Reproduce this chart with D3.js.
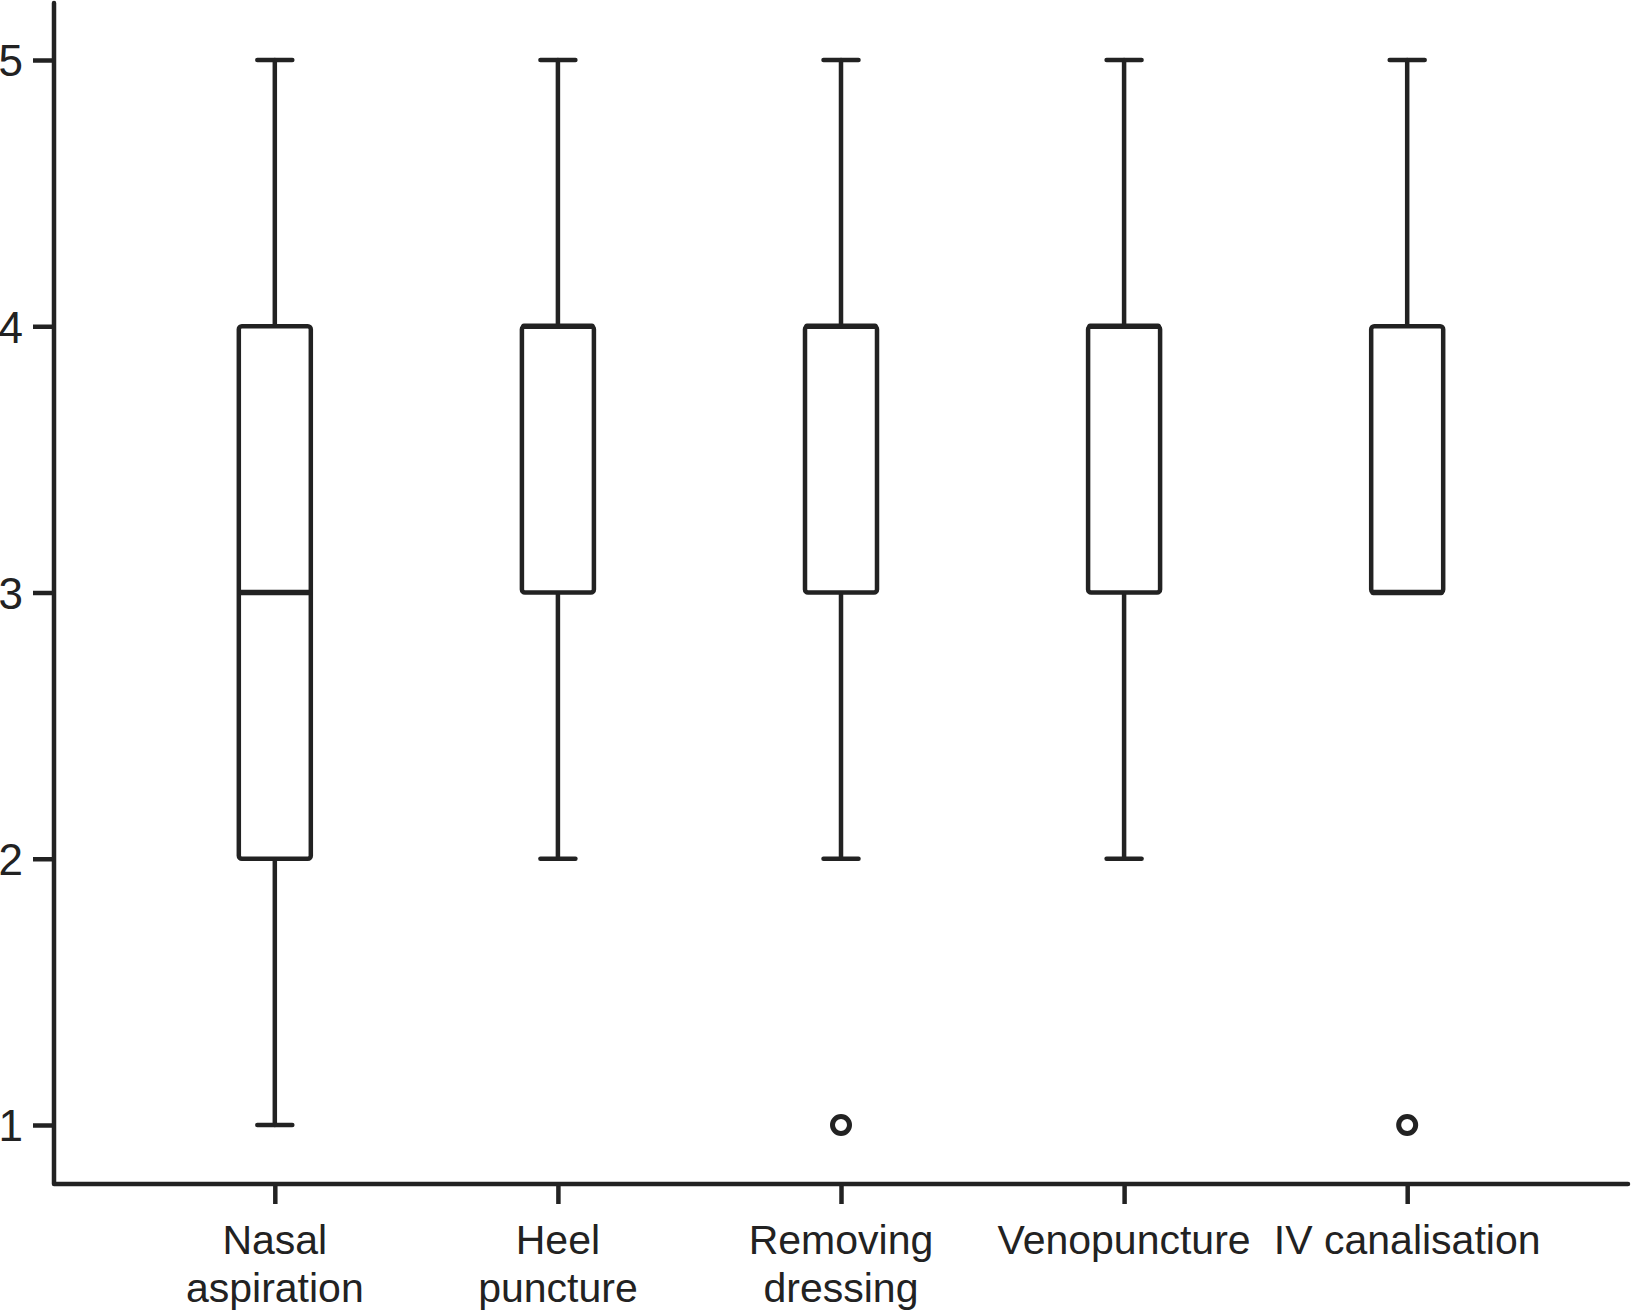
<!DOCTYPE html>
<html lang="en">
<head>
    <meta charset="UTF-8">
    <title>Box plot</title>
    <script src="https://d3js.org/d3.v7.min.js"></script>
    <style>
        body { margin: 0; background: #fff; }
        svg { display: block; }
        .tick text { font-family: "Liberation Sans", Arial, sans-serif; fill: #222; }
    </style>
</head>
<body>
    <svg id="chart" width="1631" height="1312"></svg>
    <script>
        // Categories (two-line labels) and the five-number summaries
        const categories = ["Nasal aspiration", "Heel puncture", "Removing dressing", "Venopuncture", "IV canalisation"];
        const labelLines = [["Nasal", "aspiration"], ["Heel", "puncture"], ["Removing", "dressing"], ["Venopuncture"], ["IV canalisation"]];
        const mins    = [1, 2, 2, 2, 3];
        const q1s     = [2, 3, 3, 3, 3];
        const medians = [3, 4, 4, 4, 3];
        const q3s     = [4, 4, 4, 4, 4];
        const maxs    = [5, 5, 5, 5, 5];
        const outliers = [[], [], [1], [], [1]];
        const yTicks = [1, 2, 3, 4, 5];

        const axisX = 54, axisY = 1184, axisTop = 3, axisRight = 1628;
        const boxW = 72, capW = 35, sw = 4.5;

        const x = d3.scalePoint()
            .domain(categories)
            .range([axisX, axisRight])
            .padding(0.78);

        const y = d3.scaleLinear()
            .domain([1, 5])
            .range([1125, 60]);

        const svg = d3.select("#chart");

        // y axis
        const yAxis = svg.append("g")
            .attr("transform", `translate(${axisX},0)`)
            .call(d3.axisLeft(y).tickValues(yTicks).tickSize(21).tickPadding(10).tickFormat(d3.format("d")));
        yAxis.select(".domain").remove();
        yAxis.selectAll(".tick line").attr("stroke", "#222").attr("stroke-width", sw);
        yAxis.selectAll(".tick text").attr("font-size", 44).attr("dy", "0.36em");

        // x axis
        const xAxis = svg.append("g")
            .attr("transform", `translate(0,${axisY})`)
            .call(d3.axisBottom(x).tickSize(20).tickFormat(""));
        xAxis.select(".domain").remove();
        xAxis.selectAll(".tick line").attr("stroke", "#222").attr("stroke-width", sw);

        // axis lines drawn as one L-shaped path
        svg.append("path")
            .attr("d", `M${axisX},${axisTop}V${axisY}H${axisRight}`)
            .attr("fill", "none")
            .attr("stroke", "#222")
            .attr("stroke-width", sw)
            .attr("stroke-linecap", "round")
            .attr("stroke-linejoin", "round");

        // category labels
        svg.append("g").selectAll("text")
            .data(categories)
            .join("text")
            .attr("x", d => x(d))
            .attr("y", 1254)
            .attr("text-anchor", "middle")
            .attr("font-family", "'Liberation Sans', Arial, sans-serif")
            .attr("font-size", 41)
            .attr("fill", "#222")
            .each(function(d, i) {
                d3.select(this).selectAll("tspan")
                    .data(labelLines[i])
                    .join("tspan")
                    .attr("x", x(d))
                    .attr("dy", (t, j) => j === 0 ? 0 : 48)
                    .text(t => t);
            });

        // boxes
        const boxes = svg.append("g")
            .attr("fill", "none")
            .attr("stroke", "#222")
            .attr("stroke-width", sw)
            .attr("stroke-linejoin", "round")
            .attr("stroke-linecap", "round")
            .selectAll("g")
            .data(categories)
            .join("g");

        // whiskers
        boxes.append("line")
            .attr("x1", d => x(d)).attr("x2", d => x(d))
            .attr("y1", (d, i) => y(maxs[i])).attr("y2", (d, i) => y(q3s[i]));
        boxes.append("line")
            .attr("x1", d => x(d)).attr("x2", d => x(d))
            .attr("y1", (d, i) => y(q1s[i])).attr("y2", (d, i) => y(mins[i]));
        // caps
        boxes.append("line")
            .attr("x1", d => x(d) - capW / 2).attr("x2", d => x(d) + capW / 2)
            .attr("y1", (d, i) => y(maxs[i])).attr("y2", (d, i) => y(maxs[i]));
        boxes.append("line")
            .attr("x1", d => x(d) - capW / 2).attr("x2", d => x(d) + capW / 2)
            .attr("y1", (d, i) => y(mins[i])).attr("y2", (d, i) => y(mins[i]));
        // box
        boxes.append("rect")
            .attr("x", d => x(d) - boxW / 2)
            .attr("width", boxW)
            .attr("y", (d, i) => y(q3s[i]))
            .attr("height", (d, i) => y(q1s[i]) - y(q3s[i]))
            .attr("rx", 3)
            .attr("fill", "#fff");
        // median
        boxes.append("line")
            .attr("x1", d => x(d) - boxW / 2 + 2).attr("x2", d => x(d) + boxW / 2 - 2)
            .attr("y1", (d, i) => y(medians[i])).attr("y2", (d, i) => y(medians[i]))
            .attr("stroke-width", 5.5);

        // outliers
        boxes.each(function(d, i) {
            d3.select(this).selectAll("circle")
                .data(outliers[i])
                .join("circle")
                .attr("cx", x(d))
                .attr("cy", v => y(v))
                .attr("r", 8.5)
                .attr("stroke-width", 5)
                .attr("fill", "#fff");
        });
    </script>
</body>
</html>
